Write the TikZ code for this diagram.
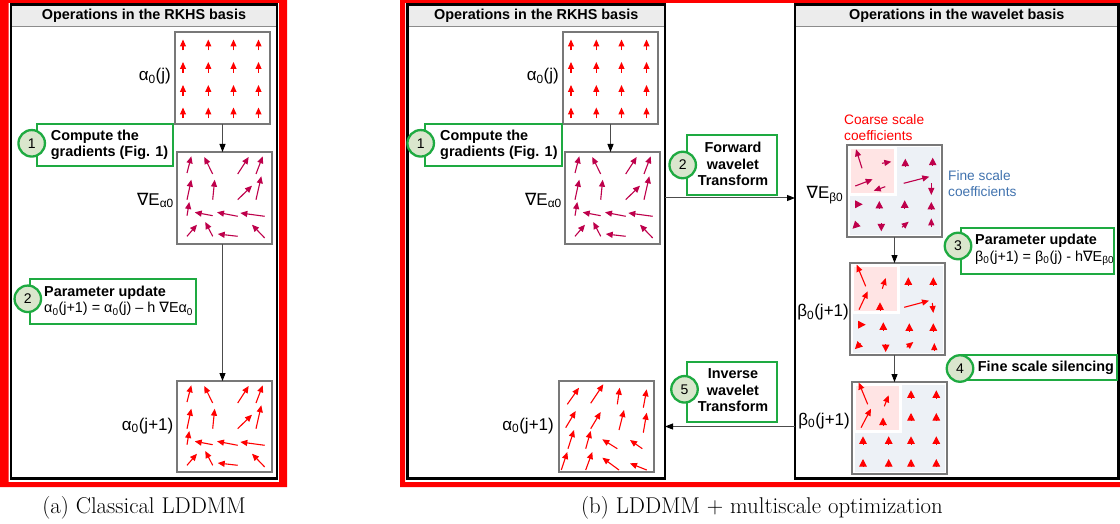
\documentclass[tikz,border=0pt]{standalone}
\usepackage{fontspec}
\setsansfont{Liberation Sans}
\newfontfamily\djv{DejaVu Sans}
\usetikzlibrary{arrows.meta,calc}
\definecolor{grn}{RGB}{30,170,65}
\definecolor{circfill}{RGB}{218,230,205}
\definecolor{crim}{RGB}{190,0,75}
\definecolor{pinkbg}{RGB}{255,228,228}
\definecolor{finebg}{RGB}{237,241,246}
\definecolor{fineblue}{RGB}{65,115,175}
\definecolor{titlebg}{RGB}{236,236,236}
\definecolor{boxgray}{RGB}{120,120,120}
\newcommand\nab{{\djv ∇}}
\newcommand\sbs[1]{\textsubscript{#1}}
\newcommand\va[4]{\draw[vec] (#1,#2) -- (#3,#4);}
\newcommand\tU[2]{\draw[tipv] (#1,{#2+4}) -- (#1,{#2-4});}
\newcommand\tD[2]{\draw[tipv] (#1,{#2-4}) -- (#1,{#2+4});}
\newcommand\tR[2]{\draw[tipv] ({#1-4},#2) -- ({#1+4},#2);}
\newcommand\tDL[2]{\draw[tipv] ({#1+2.8},{#2-2.8}) -- ({#1-2.8},{#2+2.8});}
\newcommand\gradpat{%
\va{10}{21}{14.3}{4.3}\va{35.7}{22}{27.3}{5}\va{60.7}{22}{71.7}{5}\va{79}{22}{85.7}{4.3}%
\va{10}{47.7}{14.3}{27.7}\va{35.7}{47.7}{37.7}{27.7}\va{60.7}{47.7}{75}{33.7}\va{79}{47.7}{84.3}{24.3}%
\va{10}{63.7}{12.3}{50}\va{35.7}{63.7}{17.7}{60.3}\va{60.7}{64.3}{40}{60.3}\va{87.7}{64.3}{63.3}{61}%
\va{10}{84.3}{20}{72.7}\va{35.7}{84.3}{28.3}{70}\va{60.7}{84.3}{40.7}{82}\va{87.7}{86}{75}{72.7}}
\newcommand\uppat{%
\foreach \xx in {8,33.3,58.5,83.5}{\foreach \yy in {7.5,30,53,75.5}{\draw[vec] (\xx,{\yy+11}) -- (\xx,\yy);}}}
\begin{document}
\begin{tikzpicture}[x=1pt,y=-1pt,
  panel/.style={draw=black, line width=2.3, anchor=north west, inner sep=0, outer sep=0},
  titleband/.style={fill=titlebg, draw=black!45, line width=1, anchor=north west, inner sep=0, outer sep=0,
    font=\sffamily\bfseries\fontsize{14.4}{17}\selectfont},
  gridbox/.style={draw=boxgray, line width=1.4, fill=white, minimum width=95, minimum height=92,
    anchor=north west, inner sep=0, outer sep=0},
  gbox/.style={draw=grn, line width=2.3, fill=white, anchor=north west, inner sep=0, outer sep=0},
  numc/.style={circle, draw=grn, line width=2.3, fill=circfill, minimum size=26.5, inner sep=0,
    font=\sffamily\fontsize{14}{16}\selectfont},
  gtext/.style={anchor=west, align=left, inner sep=0, font=\sffamily\fontsize{14.4}{16.3}\selectfont},
  gtextb/.style={align=center, inner sep=0, font=\sffamily\bfseries\fontsize{14.4}{16.5}\selectfont},
  lbl/.style={anchor=base east, inner sep=0, font=\sffamily\fontsize{17}{20}\selectfont},
  note/.style={anchor=west, align=left, inner sep=0, font=\sffamily\fontsize{13.7}{16}\selectfont},
  captxt/.style={anchor=base, inner sep=0, font=\rmfamily\fontsize{22.8}{26}\selectfont},
  conn/.style={draw=black!70, line width=1, -{Triangle[length=8,width=6,color=black]}},
  vec/.style={line width=1.1, -{Triangle[length=7,width=6]}},
  tipv/.style={line width=1, -{Triangle[length=7.5,width=7.5]}}]
\useasboundingbox (0,0) rectangle (1120,524);
\fill[white] (0,0) rectangle (1120,524);
% red frames
\fill[red,even odd rule] (0,0) rectangle (287,487) (8.5,3) rectangle (279,482);
\fill[red,even odd rule] (400,0) rectangle (1135,487) (405,3) rectangle (1130,482);
% panels
\node[titleband, minimum width=266, minimum height=22.5] (tL) at (11,4.5) {Operations in the RKHS basis};
\node[panel, minimum width=266, minimum height=474] (pL) at (11,4.5) {};
\node[titleband, minimum width=257.5, minimum height=22.5] (tR) at (407.5,4.5) {Operations in the RKHS basis};
\node[panel, minimum width=257.5, minimum height=474] (pR) at (407.5,4.5) {};
\node[titleband, minimum width=323.5, minimum height=22.5] (tW) at (795,4.5) {Operations in the wavelet basis};
\node[panel, minimum width=323.5, minimum height=474] (pW) at (795,4.5) {};
% grid boxes
\node[gridbox] (aL) at (175,32) {};
\node[gridbox] (gL) at (177,152) {};
\node[gridbox, minimum height=91] (cL) at (177,381) {};
\node[gridbox] (aR) at (563,32) {};
\node[gridbox] (gR) at (565,152) {};
\node[gridbox, minimum height=91] (cR) at (559,381) {};
\node[gridbox] (w1) at (847,145) {};
\node[gridbox] (w2) at (850,263) {};
\node[gridbox] (w3) at (852,382) {};
\foreach \b in {w1,w2,w3}{
  \fill[finebg] ([shift={(2.5,2.5)}]\b.north west) rectangle ([shift={(-2.5,-2.5)}]\b.south east);
  \fill[white] ([shift={(2.5,2.5)}]\b.north west) rectangle ([shift={(50,51)}]\b.north west);
  \fill[pinkbg] ([shift={(4.3,4.3)}]\b.north west) rectangle ([shift={(46.7,47.7)}]\b.north west);
}
% vector fields
\begin{scope}[shift={(aL.north west)},color=red] \uppat \end{scope}
\begin{scope}[shift={(aR.north west)},color=red] \uppat \end{scope}
\begin{scope}[shift={(gL.north west)},color=crim] \gradpat \end{scope}
\begin{scope}[shift={(gR.north west)},color=crim] \gradpat \end{scope}
\begin{scope}[shift={(cL.north west)},color=red] \gradpat \end{scope}
\begin{scope}[shift={(cR.north west)},color=red]
\va{8.3}{23.3}{20}{6.7}\va{31.7}{22.3}{44.3}{3.3}\va{58.3}{23.3}{60.7}{6.7}\va{84.3}{26.7}{87.7}{8.3}
\va{6.7}{46.7}{16.7}{30}\va{31.7}{47.7}{41.7}{31}\va{60}{49}{65}{29}\va{84.3}{51.7}{87.7}{31.7}
\va{9}{67.7}{15}{49}\va{26.7}{67.7}{31.7}{50}\va{58.3}{67.7}{43.3}{58.3}\va{83.3}{67.7}{71}{59}
\va{2.3}{89}{8.3}{71}\va{26.7}{89}{33.3}{71}\va{60}{89}{43.3}{76.7}\va{87.7}{89}{71}{82.3}
\end{scope}
\begin{scope}[shift={(w1.north west)},color=crim]
\va{15}{23.3}{9}{4.3}\va{35}{18.3}{44.3}{16.7}\va{8.3}{41}{25.7}{34.3}\va{38.3}{41.7}{26.7}{45.7}
\tU{58.3}{17.7}\tU{85.7}{16.7}\va{56.7}{38.3}{82.3}{31.7}\va{84.3}{38.3}{84.3}{50}
\tR{11.7}{59.3}\tU{32.3}{60}\tU{57.7}{59.3}\tU{84.3}{61}
\tDL{8.3}{81}\tD{34.3}{82.3}\va{55}{82.3}{61.7}{76.7}\va{84.3}{82.3}{84.3}{73.3}
\end{scope}
\begin{scope}[shift={(w2.north west)},color=red]
\va{15.7}{23.3}{6.7}{1.7}\va{32.3}{25.7}{35.7}{15}\va{9}{46.7}{17.7}{28.3}\tU{30}{43.3}
\tU{58.3}{18.3}\tU{83.3}{18.3}\va{54.3}{44.3}{79}{37.7}\va{82.3}{40}{83.3}{50}
\tR{11.7}{61.7}\tU{33.3}{63.3}\tU{59.3}{64.3}\tU{83.3}{64.3}
\tDL{7.7}{83.3}\tD{35.7}{85}\va{56.7}{84.3}{63.3}{79}\va{84.3}{88}{84.3}{80}
\end{scope}
\begin{scope}[shift={(w3.north west)},color=red]
\va{15.7}{22.3}{6.7}{0.5}\va{32.3}{24.3}{36.7}{13.3}\va{9}{45.7}{19}{26.7}\tU{31}{39.5}
\tU{59}{12.3}\tU{84.3}{12.3}\tU{59}{35}\tU{84.3}{35}
\tU{11}{58.3}\tU{36.7}{58.3}\tU{59}{58.3}\tU{84.3}{58.3}
\tU{11}{81}\tU{36.7}{81}\tU{59}{81}\tU{84.3}{81}
\end{scope}
% labels
\node[lbl] (laL) at (171,81) {α\sbs{0}(j)};
\node[lbl] (lgL) at (174,205) {\nab E\sbs{α0}};
\node[lbl] (lcL) at (173.5,430) {α\sbs{0}(j+1)};
\node[lbl] (laR) at (559,81) {α\sbs{0}(j)};
\node[lbl] (lgR) at (562,205) {\nab E\sbs{α0}};
\node[lbl] (lcR) at (554,430) {α\sbs{0}(j+1)};
\node[lbl] (lw1) at (843.5,199) {\nab E\sbs{β0}};
\node[lbl] (lw2) at (849,316.5) {β\sbs{0}(j+1)};
\node[lbl] (lw3) at (850,425) {β\sbs{0}(j+1)};
\node[note, text=red] (coarse) at (844,128) {Coarse scale\\coefficients};
\node[note, text=fineblue] (fine) at (948,183.5) {Fine scale\\coefficients};
% green step boxes
\node[gbox, minimum width=136.6, minimum height=41.7] (b1L) at (36.7,124) {};
\node[gtext, font=\sffamily\bfseries\fontsize{14.4}{16}\selectfont] (t1L) at (50.7,145) {Compute the\\gradients (Fig. 1)};
\node[numc] (n1L) at (31.7,143.3) {1};
\node[gbox, minimum width=166, minimum height=44.7] (b2L) at (30,279.3) {};
\node[gtext] (t2L) at (44,301) {{\bfseries Parameter update}\\α\sbs{0}(j+1) = α\sbs{0}(j) – h \nab Eα\sbs{0}};
\node[numc] (n2L) at (27.8,298.8) {2};
\node[gbox, minimum width=136.7, minimum height=41.7] (b1R) at (425,124) {};
\node[gtext, font=\sffamily\bfseries\fontsize{14.4}{16}\selectfont] (t1R) at (440,145) {Compute the\\gradients (Fig. 1)};
\node[numc] (n1R) at (420.7,143.3) {1};
\node[gbox, minimum width=90.6, minimum height=60] (b2R) at (686.7,135) {};
\node[gtextb] (t2R) at (733,164) {Forward\\wavelet\\Transform};
\node[numc] (n2R) at (682.7,165) {2};
\node[gbox, minimum width=90.6, minimum height=60.6] (b5R) at (686.7,361.7) {};
\node[gtextb] (t5R) at (733,390.5) {Inverse\\wavelet\\Transform};
\node[numc] (n5R) at (684.5,389.3) {5};
\node[gbox, minimum width=153.3, minimum height=45.7] (b3W) at (960.7,228.3) {};
\node[gtext] (t3W) at (975,250) {{\bfseries Parameter update}\\β\sbs{0}(j+1) = β\sbs{0}(j) - h\nab E\sbs{β0}};
\node[numc] (n3W) at (958,246) {3};
\node[gbox, minimum width=155, minimum height=25] (b4W) at (961.7,355) {};
\node[gtext, font=\sffamily\bfseries\fontsize{14.4}{16}\selectfont] (t4W) at (977.7,367.5) {Fine scale silencing};
\node[numc] (n4W) at (960,368.5) {4};
% connectors
\draw[conn] (aL.south) -- (aL.south |- gL.north);
\draw[conn] (gL.south -| aL.south) -- (aL.south |- cL.north);
\draw[conn] (aR.south) -- (aR.south |- gR.north);
\draw[conn] (gR.east -| pR.east) -- (gR.east -| pW.west);
\draw[conn] (cR.east -| pW.west) -- (cR.east -| pR.east);
\draw[conn] (w1.south) -- (w1.south |- w2.north);
\draw[conn] (w2.south -| w1.south) -- (w1.south |- w3.north);
% captions
\node[captxt] (capA) at (144,513) {(a) Classical LDDMM};
\node[captxt] (capB) at (762,513) {(b) LDDMM + multiscale optimization};
\end{tikzpicture}
\end{document}
